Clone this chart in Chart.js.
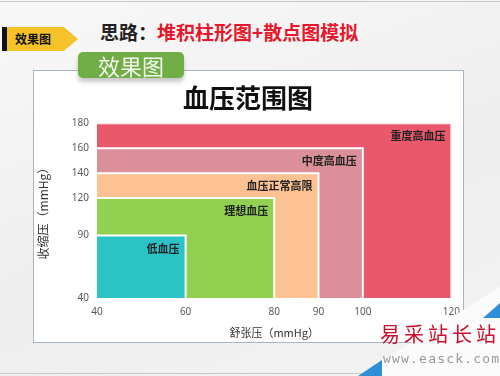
<!DOCTYPE html>
<html>
<head>
<meta charset="utf-8">
<script src="https://cdn.jsdelivr.net/npm/chart.js@4.4.0/dist/chart.umd.min.js"></script>
<style>
  body { margin: 0; width: 500px; height: 376px; overflow: hidden; position: relative;
    font-family: "Noto Sans CJK SC", sans-serif;
    background: linear-gradient(160deg, #f8f8f8 0%, #eeeeee 55%, #f3f3f3 100%); }
  .frame { position: absolute; left: 0; top: 1px; width: 500px; height: 373px;
    border-top: 1px solid #c9c9c9; border-bottom: 1px solid #c9c9c9; box-sizing: border-box; }
  .tag-bar { position: absolute; left: 2px; top: 27px; width: 5px; height: 24px; background: #111; }
  .tag { position: absolute; left: 7px; top: 27px; width: 71px; height: 24px; background: #f6c22a;
    clip-path: polygon(0 0, 80% 0, 100% 50%, 80% 100%, 0 100%);
    font-size: 12px; font-weight: bold; color: #111; line-height: 24px; padding-left: 8px; box-sizing: border-box; }
  .idea { position: absolute; left: 100px; top: 18px; font-size: 19px; font-weight: bold; color: #222; white-space: nowrap; }
  .idea span { color: #e8172b; }
  .box { position: absolute; left: 33px; top: 70px; width: 429px; height: 271px; background: #fff;
    border: 1px solid #a9b4c6; }
  .tab { position: absolute; left: 78px; top: 52px; width: 106px; height: 26px; background: #70ad47;
    border-radius: 5px; box-shadow: 0 4px 4px rgba(0,0,0,0.22); color: #f2f8ec; font-size: 22px;
    line-height: 26px; text-align: center; z-index: 3; }
  #wrap { position: absolute; left: 34px; top: 71px; width: 434px; height: 270px; z-index: 2; }
  .panel { position: absolute; left: 0; top: 0; width: 500px; height: 376px; background: #fbfbfb;
    clip-path: polygon(358px 376px, 500px 287px, 500px 376px); z-index: 4; }
  .tri1 { position: absolute; left: 358px; top: 360px; width: 24px; height: 16px; background: #2e8fd8;
    clip-path: polygon(100% 0, 100% 100%, 0 100%); z-index: 5; }
  .tri2 { position: absolute; left: 483px; top: 303px; width: 17px; height: 15px; background: #2e8fd8;
    clip-path: polygon(100% 0, 100% 100%, 0 100%); z-index: 5; }
  .wm-cn { position: absolute; left: 380px; top: 319px; font-size: 20px; color: #c8102e; letter-spacing: 4px;
    white-space: nowrap; z-index: 6; }
  .wm-en { position: absolute; left: 383px; top: 351px; font-size: 13px; color: #9a9a9a; letter-spacing: 1.2px;
    font-family: "DejaVu Sans Mono", monospace; white-space: nowrap; z-index: 6; }
</style>
</head>
<body>
<div class="frame"></div>
<div class="tag-bar"></div>
<div class="tag">效果图</div>
<div class="idea">思路：<span>堆积柱形图+散点图模拟</span></div>
<div class="box"></div>
<div class="tab">效果图</div>
<div id="wrap"><canvas id="c" width="434" height="270"></canvas></div>
<div class="panel"></div>
<div class="tri1"></div>
<div class="tri2"></div>
<div class="wm-cn">易采站长站</div>
<div class="wm-en">www.easck.com</div>

<script>
// 血压分级：舒张压上限 / 收缩压上限
const categories = ['低血压', '理想血压', '血压正常高限', '中度高血压', '重度高血压'];
const diastolicMax = [60, 80, 90, 100, 120];
const systolicMax = [90, 120, 140, 160, 180];
const xTicks = [40, 60, 80, 90, 100, 120];
const yTicks = [40, 90, 120, 140, 160, 180];

const colors = ['#2cc3c7', '#92d050', '#fcc293', '#da8f99', '#e9586b'];
const xMin = xTicks[0], yMin = yTicks[0];

// 每个区域画成一条折线 (左上 -> 右上 -> 右下)，向下填充到底
const datasets = categories.map((name, i) => ({
  label: name,
  data: [
    { x: xMin, y: systolicMax[i] },
    { x: diastolicMax[i], y: systolicMax[i] },
    { x: diastolicMax[i], y: yMin }
  ],
  fill: 'origin',
  backgroundColor: colors[i],
  borderColor: '#ffffff',
  borderWidth: 2,
  pointRadius: 0,
  tension: 0,
  order: i
}));

// 每个区域右上角的文字
const areaLabels = {
  id: 'areaLabels',
  afterDatasetsDraw(chart) {
    const { ctx, scales: { x, y } } = chart;
    ctx.save();
    ctx.font = 'bold 11px "Noto Sans CJK SC"';
    ctx.fillStyle = '#222';
    ctx.textAlign = 'right';
    ctx.textBaseline = 'middle';
    categories.forEach((name, i) => {
      ctx.fillText(name, x.getPixelForValue(diastolicMax[i]) - 6, y.getPixelForValue(systolicMax[i]) + 13);
    });
    ctx.restore();
  }
};

const tickFont = { family: '"Noto Sans", sans-serif', size: 10 };

new Chart(document.getElementById('c'), {
  type: 'line',
  data: { datasets },
  plugins: [areaLabels],
  options: {
    responsive: false,
    animation: false,
    layout: { padding: { left: 0, right: 6, top: 0, bottom: 0 } },
    plugins: {
      legend: { display: false },
      tooltip: { enabled: false },
      title: {
        display: true,
        text: '血压范围图',
        color: '#111',
        font: { family: '"Noto Sans CJK SC"', size: 26, weight: 'bold' },
        padding: { top: 12, bottom: 9 }
      }
    },
    scales: {
      x: {
        type: 'linear', min: 40, max: 120,
        grid: { display: false, drawTicks: false },
        border: { display: false },
        afterBuildTicks: s => { s.ticks = xTicks.map(v => ({ value: v })); },
        afterFit: s => { s.height = 43; },
        ticks: { color: '#595959', font: tickFont, padding: 8, autoSkip: false, maxRotation: 0 },
        title: { display: true, text: '舒张压（mmHg）', color: '#333',
          font: { family: '"Noto Sans CJK SC"', size: 11 }, padding: { top: 2, bottom: 2 } }
      },
      y: {
        min: 40, max: 180,
        grid: { display: false, drawTicks: false },
        border: { display: false },
        afterBuildTicks: s => { s.ticks = yTicks.map(v => ({ value: v })); },
        afterFit: s => { s.width = 63; },
        ticks: { color: '#595959', font: tickFont, padding: 8, autoSkip: false },
        title: { display: true, text: '收缩压（mmHg）', color: '#333',
          font: { family: '"Noto Sans CJK SC"', size: 12 }, padding: { top: 2, bottom: 2 } }
      }
    }
  }
});
</script>
</body>
</html>
